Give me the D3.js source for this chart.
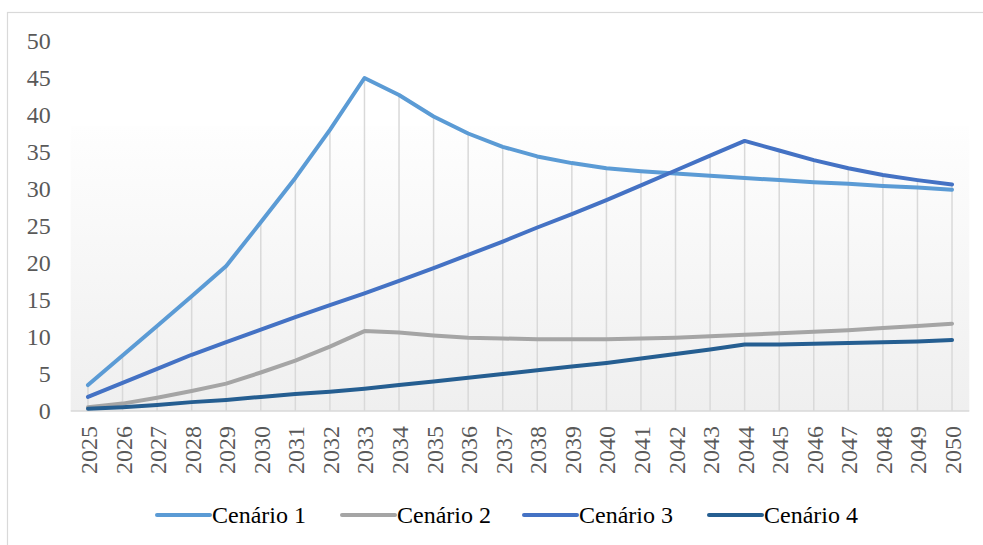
<!DOCTYPE html>
<html>
<head>
<meta charset="utf-8">
<script src="https://cdn.jsdelivr.net/npm/d3@7"></script>
<style>
  body { margin: 0; background: #fff; }
</style>
</head>
<body>
<svg id="chart" width="983" height="545"></svg>
<script>
// Chart data
const years = d3.range(2025, 2051).map(String);
const yTicks = [0, 5, 10, 15, 20, 25, 30, 35, 40, 45, 50];
const seriesNames = ["Cenário 1", "Cenário 2", "Cenário 3", "Cenário 4"];
const cenario1 = [3.5, 7.5, 11.5, 15.5, 19.6, 25.5, 31.5, 38.0, 45.0, 42.7, 39.8, 37.5, 35.7, 34.4, 33.5, 32.8, 32.4, 32.1, 31.8, 31.5, 31.2, 30.9, 30.7, 30.4, 30.2, 29.9];
const cenario2 = [0.5, 1.0, 1.8, 2.7, 3.7, 5.2, 6.8, 8.7, 10.8, 10.6, 10.2, 9.9, 9.8, 9.7, 9.7, 9.7, 9.8, 9.9, 10.1, 10.3, 10.5, 10.7, 10.9, 11.2, 11.5, 11.8];
const cenario3 = [1.9, 3.8, 5.7, 7.6, 9.3, 11.0, 12.7, 14.3, 15.9, 17.6, 19.3, 21.1, 22.9, 24.8, 26.6, 28.5, 30.5, 32.5, 34.5, 36.5, 35.2, 33.9, 32.8, 31.9, 31.2, 30.6];
const cenario4 = [0.3, 0.5, 0.8, 1.2, 1.5, 1.9, 2.3, 2.6, 3.0, 3.5, 4.0, 4.5, 5.0, 5.5, 6.0, 6.5, 7.1, 7.7, 8.3, 9.0, 9.0, 9.1, 9.2, 9.3, 9.4, 9.6];

const colors = ["#5B9BD5", "#A5A5A5", "#4472C4", "#255E91"];
const seriesValues = [cenario1, cenario2, cenario3, cenario4];
const font = "'Liberation Serif', 'Times New Roman', serif";

const svg = d3.select("#chart");

// Outer frame (only top and left edges are visible)
svg.append("rect")
    .attr("x", 7.5).attr("y", 12.5)
    .attr("width", 1000).attr("height", 600)
    .attr("fill", "#fff")
    .attr("stroke", "#d9d9d9")
    .attr("stroke-width", 1.2);

const plot = {left: 70.7, right: 969.3, top: 41, bottom: 411};

// Scales
const xScale = d3.scaleBand()
    .domain(years)
    .range([plot.left, plot.right]);

const yScale = d3.scaleLinear()
    .domain([0, 50])
    .range([plot.bottom, plot.top]);

const xPos = d => xScale(d) + xScale.bandwidth() / 2;

// Plot background gradient
const grad = svg.append("defs").append("linearGradient")
    .attr("id", "bg").attr("x1", 0).attr("y1", 0).attr("x2", 0).attr("y2", 1);
grad.append("stop").attr("offset", "0%").attr("stop-color", "#fefefe");
grad.append("stop").attr("offset", "100%").attr("stop-color", "#efefef");

svg.append("rect")
    .attr("x", plot.left)
    .attr("y", yScale(38.5))
    .attr("width", plot.right - plot.left)
    .attr("height", plot.bottom - yScale(38.5))
    .attr("fill", "url(#bg)");

// Drop lines from the highest series to the base
svg.append("g")
    .selectAll("line")
    .data(years)
    .enter()
    .append("line")
    .attr("x1", d => xPos(d))
    .attr("x2", d => xPos(d))
    .attr("y1", (d, i) => yScale(d3.max(seriesValues, s => s[i])))
    .attr("y2", yScale(0))
    .attr("stroke", "#d9d9d9")
    .attr("stroke-width", 1.5);

// Base line
svg.append("line")
    .attr("x1", plot.left).attr("x2", plot.right)
    .attr("y1", yScale(0)).attr("y2", yScale(0))
    .attr("stroke", "#d9d9d9")
    .attr("stroke-width", 1.5);

// Y axis labels
const yAxis = svg.append("g")
    .attr("transform", "translate(" + (plot.left - 20) + ",0)")
    .call(d3.axisLeft(yScale).tickValues(yTicks).tickSize(0).tickPadding(0));
yAxis.select(".domain").remove();
yAxis.selectAll("text")
    .attr("fill", "#595959")
    .attr("dy", "0.33em")
    .style("font-family", font)
    .style("font-size", "24px");

// X axis labels (rotated)
const xAxis = svg.append("g")
    .attr("transform", "translate(0," + yScale(0) + ")")
    .call(d3.axisBottom(xScale).tickSize(0));
xAxis.select(".domain").remove();
xAxis.selectAll("text")
    .attr("fill", "#595959")
    .style("font-family", font)
    .style("font-size", "24px")
    .attr("text-anchor", "end")
    .attr("transform", "translate(9,15) rotate(-90)")
    .attr("x", 0).attr("y", 0).attr("dy", 0);

// Lines
const line = d3.line()
    .x((d, i) => xPos(years[i]))
    .y(d => yScale(d));

svg.append("g")
    .selectAll("path")
    .data(seriesValues)
    .enter()
    .append("path")
    .attr("fill", "none")
    .attr("stroke", (d, i) => colors[i])
    .attr("stroke-width", 4)
    .attr("stroke-linejoin", "round")
    .attr("stroke-linecap", "round")
    .attr("d", line);

// Legend
const legendX = [157, 342, 524, 709];
const legend = svg.append("g");
seriesNames.forEach((name, i) => {
    legend.append("line")
        .attr("x1", legendX[i]).attr("x2", legendX[i] + 53)
        .attr("y1", 515).attr("y2", 515)
        .attr("stroke", colors[i])
        .attr("stroke-width", 4)
        .attr("stroke-linecap", "round");
    legend.append("text")
        .attr("x", legendX[i] + 55)
        .attr("y", 523)
        .attr("fill", "#000")
        .style("font-family", font)
        .style("font-size", "24px")
        .text(name);
});
</script>
</body>
</html>
